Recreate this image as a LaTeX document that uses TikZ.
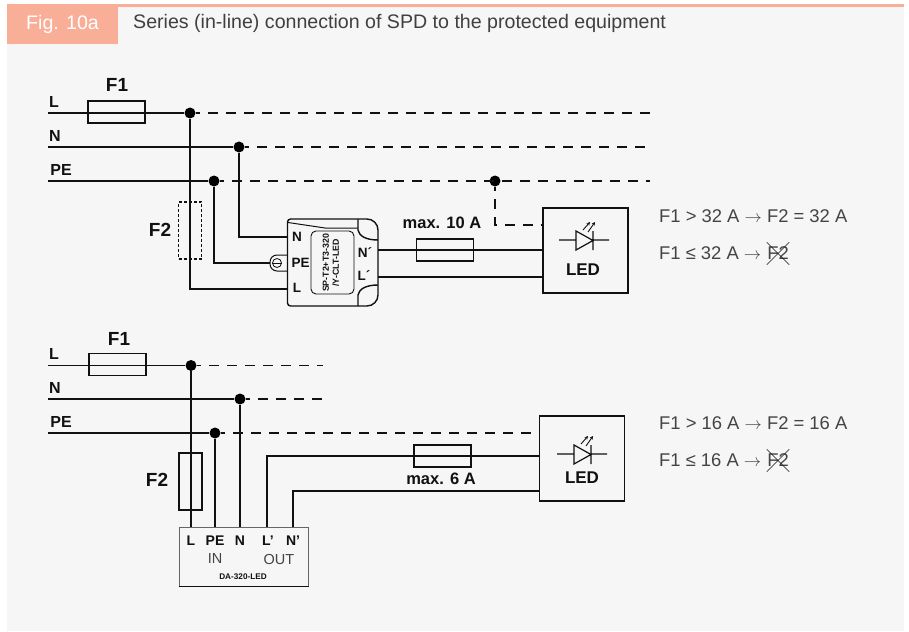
\documentclass[tikz,border=0pt]{standalone}
\usepackage{fontspec}
\setmainfont{Liberation Sans}
\usepackage{tikz}
\usetikzlibrary{shapes.misc, arrows.meta, positioning}
\definecolor{panelgray}{HTML}{F6F6F6}
\definecolor{salmon}{HTML}{F9AE97}
\definecolor{textgray}{HTML}{444444}
\definecolor{wireblack}{HTML}{111111}
\tikzset{
  wire/.style={draw=wireblack, line width=1.4pt},
  bus/.style={wire, dash pattern=on 9.5pt off 8.5pt, dash phase=5.5pt},
  fuse/.style={draw=wireblack, line width=1.4pt, minimum width=57pt, minimum height=22pt, inner sep=0pt},
  vfuse/.style={fuse, minimum width=23pt, minimum height=57pt},
  dot/.style={circle, fill=black, minimum size=11pt, inner sep=0pt},
  ledbox/.style={draw=wireblack, line width=1.5pt, minimum size=85pt, inner sep=0pt},
  lab/.style={font=\bfseries\fontsize{16}{16}\selectfont, text=wireblack, inner sep=0pt},
  termlab/.style={font=\bfseries\fontsize{13.5}{13.5}\selectfont, text=wireblack, inner sep=0pt},
  pinlab/.style={font=\bfseries\fontsize{14}{14}\selectfont, text=wireblack, inner sep=0pt},
  iolab/.style={font=\fontsize{14.5}{14.5}\selectfont, text=textgray, inner sep=0pt},
  maxlab/.style={font=\bfseries\fontsize{16.5}{16.5}\selectfont, text=wireblack, inner sep=0pt},
  ledlab/.style={font=\bfseries\fontsize{17}{17}\selectfont, text=wireblack, inner sep=0pt},
  big/.style={font=\bfseries\fontsize{19}{19}\selectfont, text=wireblack, inner sep=0pt},
  rule/.style={font=\fontsize{18.4}{18.4}\selectfont, text=textgray, inner sep=0pt, anchor=west},
  nofuse/.style={cross out, draw=wireblack, line width=0.5pt, minimum size=22pt, inner sep=0pt, font=\fontsize{18.4}{18.4}\selectfont, text=textgray},
  diode/.pic={
    \draw[line width=1.2pt, draw=wireblack] (-25,0) -- (-8,0) (-8,-9) -- (-8,10) -- (9,0.5) -- cycle (9,-9) -- (9,10) (9,0) -- (25,0);
    \draw[line width=0.9pt, draw=wireblack, -{Stealth[length=3.5pt,width=3.5pt]}] (-1,-10) -- (6,-18);
    \draw[line width=0.9pt, draw=wireblack, -{Stealth[length=3.5pt,width=3.5pt]}] (4,-8) -- (11,-18);
  }
}
\begin{document}
\begin{tikzpicture}[x=1pt, y=-1pt]
\useasboundingbox (0,0) rectangle (909,631);
% Background and header
\fill[panelgray] (7,7) rectangle (904,631);
\fill[salmon] (118,4.5) rectangle (904,7);
\node[fill=salmon, minimum width=111pt, minimum height=40pt, inner sep=0pt, text=white, font=\fontsize{19.6}{19.6}\selectfont] (figtag) at (62.5,24) {Fig. 10a};
\node[rule, font=\fontsize{19.6}{19.6}\selectfont, text=black!75] (title) at (133,23) {Series (in-line) connection of SPD to the protected equipment};

% Upper circuit: nodes
\node[lab] (labL1) at (54,102) {L};
\node[lab] (labN1) at (55,136) {N};
\node[lab] (labPE1) at (61,170) {PE};
\coordinate (startL1) at (48,113);
\coordinate (startN1) at (48,147);
\coordinate (startPE1) at (48,181);
\node[dot] (dotL1) at (190,113) {};
\node[dot] (dotN1) at (239,147) {};
\node[dot] (dotPE1) at (214,181) {};
\node[dot] (dotLED1) at (495,181) {};
\coordinate (endL1) at (650,113);
\coordinate (endN1) at (650,147);
\coordinate (endPE1) at (650,181);
\node[fuse] (F1a) at (116.5,112) {};
\node[big] (labF1a) at (117,85) {F1};
\node[vfuse, dash pattern=on 3pt off 2pt, line width=1.2pt] (F2a) at (190,230.5) {};
\node[big] (labF2a) at (160,230) {F2};

% Upper circuit: SPD module
\draw[wire] (300,306) [rounded corners=3pt] -- (287.5,306) -- (287.5,219) -- (330,219) [rounded corners=11pt] -- (378,219) -- (378,306) -- (330,306) [rounded corners=0pt] -- cycle;
\draw[wire, line width=0.9pt, rounded corners=5pt] (311,231) rectangle (354,294);
\draw[wire, line width=1pt] (288,222.5) -- (325,228) -- (358,228);
\draw[wire] (358,219) -- (358,230) .. controls (359,236) and (366,240) .. (378,240);
\draw[wire] (378,285) .. controls (366,285) and (359,289) .. (358,295) -- (358,306);
\node[termlab] (termN1) at (297,237) {N};
\node[termlab] (termPE1) at (300.5,263) {PE};
\node[termlab] (termL1) at (297,288) {L};
\node[termlab] (termNo1) at (365,253) {N´};
\node[termlab] (termLo1) at (364,276) {L´};
\node[rotate=90, font=\bfseries\fontsize{8.8}{10}\selectfont, text=wireblack, inner sep=0pt, align=center] (spdname) at (331,263) {SP-T2+T3-320\\/Y-CLT-LED};
\draw[wire, line width=1pt, rounded corners=7pt] (287,255) -- (270,255) -- (270,271) -- (287,271);
\node[circle, draw=wireblack, line width=0.8pt, minimum size=9pt, inner sep=0pt] (clamp) at (277,263) {};
\draw[line width=0.8pt, draw=wireblack] (clamp.west) -- (clamp.east);
\coordinate (inN1) at (287.5,237);
\coordinate (inPE1) at (270,263);
\coordinate (inL1) at (287.5,289);
\coordinate (outN1) at (378,250);
\coordinate (outL1) at (378,277);

% Upper circuit: load
\node[ledbox] (LED1) at (585.5,250.5) {};
\pic at (584,240) {diode};
\node[ledlab] (labLED1) at (583,270) {LED};
\node[fuse] (F3a) at (445,250) {};
\node[maxlab] (labF3a) at (442,223) {max. 10 A};
\coordinate (loadN1) at (LED1.west |- outN1);
\coordinate (loadL1) at (LED1.west |- outL1);
\coordinate (loadPE1) at (LED1.west |- 0,225);

% Upper circuit: connections
\draw[wire] (startL1) -- (dotL1);
\draw[wire] (startN1) -- (dotN1);
\draw[wire] (startPE1) -- (dotPE1);
\draw[bus] (dotL1) -- (endL1);
\draw[bus] (dotN1) -- (endN1);
\draw[bus] (dotPE1) -- (endPE1);
\draw[wire] (dotL1) |- (inL1);
\draw[wire] (dotN1) |- (inN1);
\draw[wire] (dotPE1) |- (inPE1);
\draw[wire] (outN1) -- (loadN1);
\draw[wire] (outL1) -- (loadL1);
\draw[bus] (dotLED1) |- (loadPE1);

% Upper circuit: rules
\node[rule] (rule1) at (659,216) {F1 > 32 A $\rightarrow$ F2 = 32 A};
\node[rule] (rule2) at (659,253) {F1 ≤ 32 A $\rightarrow$};
\node[nofuse] (cross1) at (778,253.5) {F2};

% Lower circuit: nodes
\node[lab] (labL2) at (54,354) {L};
\node[lab] (labN2) at (55,388) {N};
\node[lab] (labPE2) at (61,422) {PE};
\coordinate (startL2) at (48,365.5);
\coordinate (startN2) at (48,399);
\coordinate (startPE2) at (48,433);
\node[dot] (dotL2) at (191,365.5) {};
\node[dot] (dotN2) at (240,399) {};
\node[dot] (dotPE2) at (215,433) {};
\coordinate (endL2) at (323,365.5);
\coordinate (endN2) at (323,399);
\coordinate (endPE2) at (540,433);
\node[fuse] (F1b) at (117.5,364.5) {};
\node[big] (labF1b) at (119,339) {F1};
\node[vfuse] (F2b) at (190.5,481.5) {};
\node[big] (labF2b) at (157,480) {F2};

% Lower circuit: SPD box
\node[draw=black!60, line width=1pt, minimum width=129pt, minimum height=59pt, inner sep=0pt] (DA) at (243.5,556.5) {};
\draw[wire] (DA.south west) -- (DA.south east);
\node[pinlab] (termL2) at (191,541) {L};
\node[pinlab] (termPE2) at (215,541) {PE};
\node[pinlab] (termN2) at (240,541) {N};
\node[pinlab] (termLo2) at (268,541) {L'};
\node[pinlab] (termNo2) at (293,541) {N'};
\node[iolab] (labIN) at (215,559) {IN};
\node[iolab] (labOUT) at (279,560) {OUT};
\node[inner sep=0pt, text=wireblack, font=\bfseries\fontsize{8.2}{8.2}\selectfont] (DAname) at (243,577) {DA-320-LED};
\coordinate (inL2) at (191,527);
\coordinate (inPE2) at (215,527);
\coordinate (inN2) at (240,527);
\coordinate (outL2) at (267,527);
\coordinate (outN2) at (293,527);

% Lower circuit: load
\node[ledbox] (LED2) at (582,458.5) {};
\pic at (582,454) {diode};
\node[ledlab] (labLED2) at (582,478) {LED};
\node[fuse] (F3b) at (442.5,456) {};
\node[maxlab] (labF3b) at (441,479) {max. 6 A};
\coordinate (loadL2) at (LED2.west |- 0,456);
\coordinate (loadN2) at (LED2.west |- 0,491);

% Lower circuit: connections
\draw[wire] (startL2) -- (dotL2);
\draw[wire] (startN2) -- (dotN2);
\draw[wire] (startPE2) -- (dotPE2);
\draw[bus] (dotL2) -- (endL2);
\draw[bus] (dotN2) -- (endN2);
\draw[bus] (dotPE2) -- (endPE2);
\draw[wire] (dotL2) -- (inL2);
\draw[wire] (dotPE2) -- (inPE2);
\draw[wire] (dotN2) -- (inN2);
\draw[wire] (outL2) |- (loadL2);
\draw[wire] (outN2) |- (loadN2);

% Lower circuit: rules
\node[rule] (rule3) at (659,423) {F1 > 16 A $\rightarrow$ F2 = 16 A};
\node[rule] (rule4) at (659,460) {F1 ≤ 16 A $\rightarrow$};
\node[nofuse] (cross2) at (778,460.5) {F2};
\end{tikzpicture}
\end{document}
